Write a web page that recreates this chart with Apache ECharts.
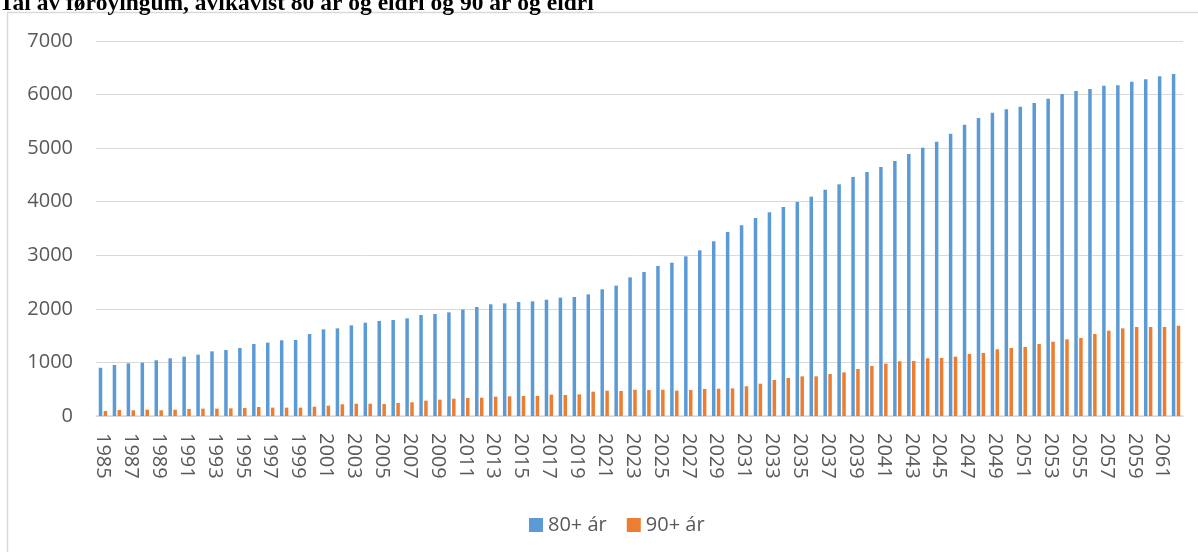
<!DOCTYPE html>
<html>
<head>
<meta charset="utf-8">
<script src="https://cdn.jsdelivr.net/npm/echarts@6/dist/echarts.min.js"></script>
<style>
html,body{margin:0;padding:0;background:#fff;}
#c{width:1198px;height:552px;}
</style>
</head>
<body>
<div id="c"></div>
<script>
const titleText = 'Tal av føroyingum, ávikavist 80 ár og eldri og 90 ár og eldri';
const years = [];
for (let y = 1985; y <= 2062; y++) years.push(String(y));
const seriesNames = ['80+ ár', '90+ ár'];
const yTicks = [0, 1000, 2000, 3000, 4000, 5000, 6000, 7000];
const age80 = [
  900, 952, 983, 995, 1040, 1077, 1108, 1145, 1207, 1232,
  1269, 1344, 1369, 1413, 1419, 1531, 1618, 1636, 1692, 1742,
  1773, 1792, 1823, 1885, 1904, 1935, 1988, 2035, 2085, 2103,
  2128, 2141, 2171, 2209, 2221, 2271, 2365, 2433, 2589, 2688,
  2800, 2862, 2981, 3093, 3261, 3435, 3560, 3696, 3802, 3901,
  3995, 4094, 4224, 4325, 4461, 4555, 4648, 4760, 4891, 5009,
  5121, 5270, 5438, 5563, 5662, 5725, 5774, 5843, 5924, 6011,
  6067, 6104, 6166, 6172, 6240, 6284, 6340, 6384
];
const age90 = [
  93, 112, 106, 118, 106, 118, 131, 137, 137, 143,
  149, 168, 156, 156, 156, 174, 193, 218, 230, 230,
  224, 243, 255, 286, 305, 323, 336, 342, 361, 367,
  373, 373, 398, 392, 404, 454, 473, 467, 491, 485,
  491, 473, 485, 504, 510, 516, 554, 603, 672, 709,
  740, 740, 784, 815, 877, 933, 977, 1021, 1027, 1077,
  1083, 1108, 1157, 1176, 1245, 1269, 1288, 1344, 1387, 1431,
  1456, 1531, 1593, 1636, 1661, 1661, 1661, 1686
];

const chart = echarts.init(document.getElementById('c'), null, {renderer: 'canvas'});
const labelFont = '"Open Sans", sans-serif';
chart.setOption({
  animation: false,
  backgroundColor: '#ffffff',
  title: {
    text: titleText,
    left: -1,
    top: -8,
    padding: 0,
    textStyle: {fontFamily: '"Liberation Serif", serif', fontWeight: 'bold', fontSize: 23.5, color: '#000000'}
  },
  graphic: [{
    type: 'rect',
    shape: {x: 7.5, y: 12.5, width: 1200, height: 560},
    style: {fill: 'none', stroke: '#d9d9d9', lineWidth: 1.5},
    silent: true, z: -1
  }],
  legend: {
    data: seriesNames,
    left: 524,
    top: 510,
    itemWidth: 14,
    itemHeight: 14,
    itemGap: 20,
    icon: 'rect',
    textStyle: {fontFamily: labelFont, fontSize: 20, color: '#595959'}
  },
  grid: {left: 96, right: 15, top: 41, bottom: 136, containLabel: false},
  xAxis: {
    type: 'category',
    data: years,
    axisLine: {show: true, lineStyle: {color: '#d9d9d9', width: 1.5}},
    axisTick: {show: false},
    axisLabel: {
      interval: 1,
      rotate: -90,
      margin: 17,
      fontFamily: labelFont,
      fontSize: 20,
      color: '#595959'
    }
  },
  yAxis: {
    type: 'value',
    min: yTicks[0],
    max: yTicks[yTicks.length - 1],
    interval: 1000,
    axisLine: {show: false},
    axisTick: {show: false},
    splitLine: {lineStyle: {color: '#d9d9d9', width: 1}},
    axisLabel: {margin: 23, fontFamily: labelFont, fontSize: 20, color: '#595959', formatter: function (v) { return String(v); }}
  },
  series: [
    {name: seriesNames[0], type: 'bar', data: age80, barWidth: 3.5, barGap: '40%', itemStyle: {color: '#5b9bd5'}},
    {name: seriesNames[1], type: 'bar', data: age90, barWidth: 3.5, barGap: '40%', itemStyle: {color: '#ed7d31'}}
  ]
});
</script>
</body>
</html>
